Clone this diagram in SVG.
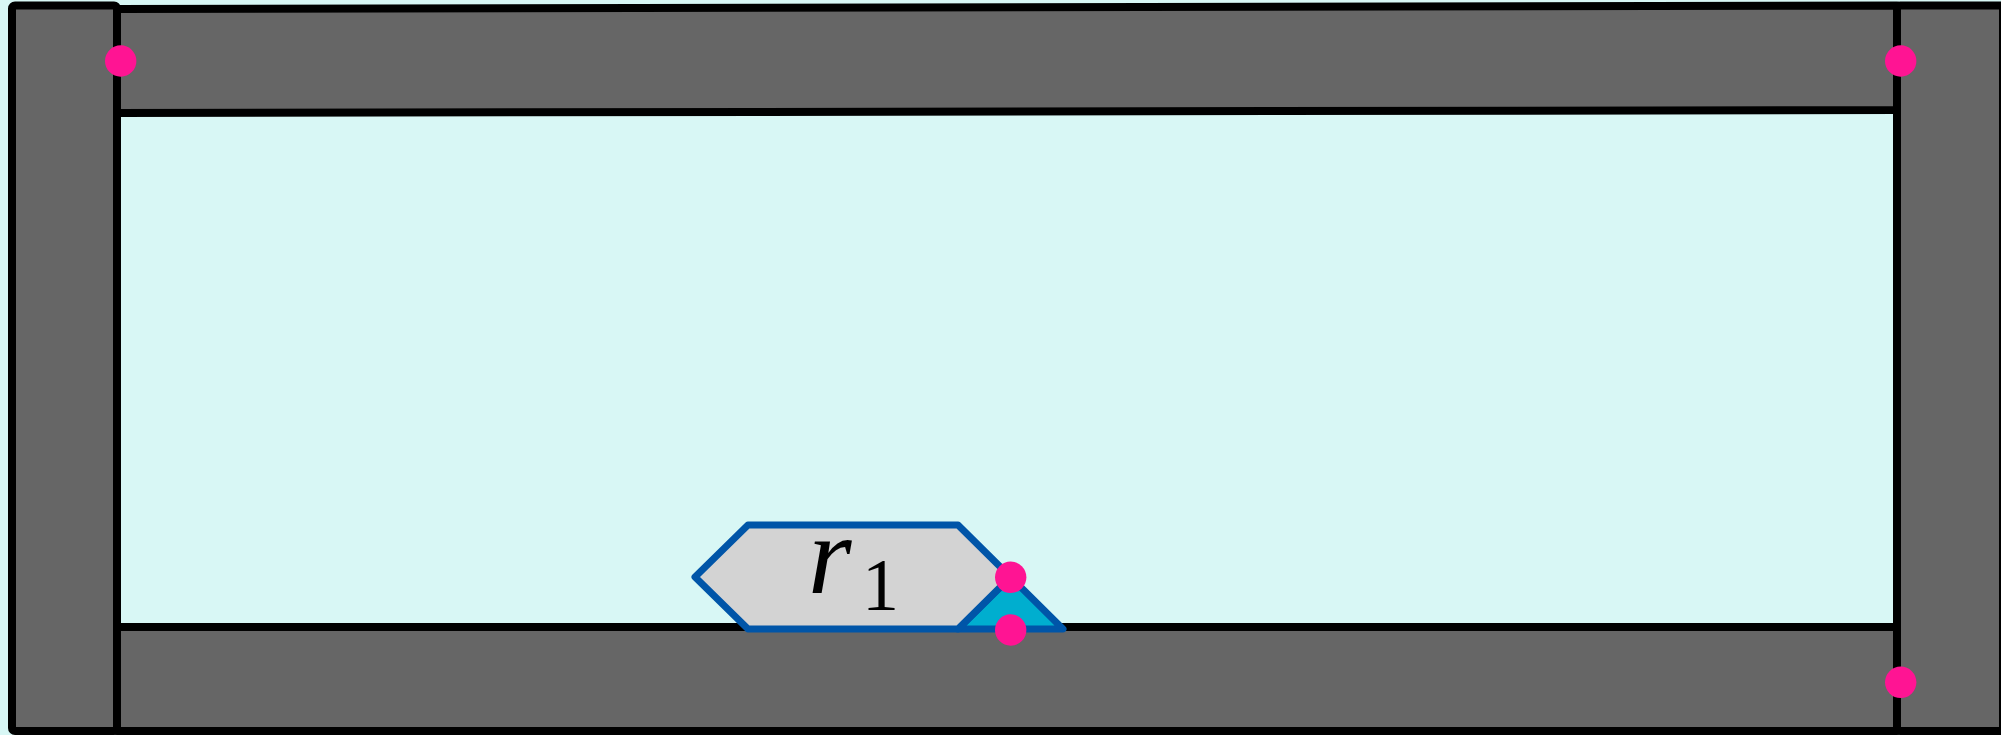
<svg xmlns="http://www.w3.org/2000/svg" width="2001" height="735" viewBox="0 0 2001 735">
<style>
.bar{fill:#666666;stroke:#000;stroke-width:8;stroke-linejoin:round}
.blue{stroke:#0055a8;stroke-width:7;stroke-linejoin:round}
.dot{fill:#ff1493}
.math{font-family:"Liberation Serif",serif;fill:#000}
</style>
<rect x="0" y="0" width="2001" height="735" fill="#d8f7f5"/>
<g id="top-bar"><polygon class="bar" points="117,9 1897,5.5 1897,110 117,113"/></g>
<g id="bottom-bar"><polygon class="bar" points="117,627 1897,627 1897,731 117,731"/></g>
<g id="left-wall"><rect class="bar" x="12" y="5.5" width="105" height="725.5" rx="3"/></g>
<g id="right-wall"><rect class="bar" x="1897" y="5.5" width="106" height="725.5" rx="3"/></g>
<g id="r1">
<polygon class="blue" fill="#00aecf" points="958,629 1010.5,577 1063,629"/>
<polygon class="blue" fill="#d3d3d3" points="695,577 748,525 958,525 1010.5,577 958,629 748,629"/>
<text class="math" x="808" y="593" font-size="112" font-style="italic">r</text>
<text class="math" x="862" y="610" font-size="74">1</text>
</g>
<g id="points">
<circle class="dot" cx="120.7" cy="61" r="15.7"/>
<circle class="dot" cx="1900.7" cy="61" r="15.7"/>
<circle class="dot" cx="1900.7" cy="682.3" r="15.7"/>
<circle class="dot" cx="1010.7" cy="577.3" r="15.7"/>
<circle class="dot" cx="1010.7" cy="630" r="15.7"/>
</g>
</svg>
